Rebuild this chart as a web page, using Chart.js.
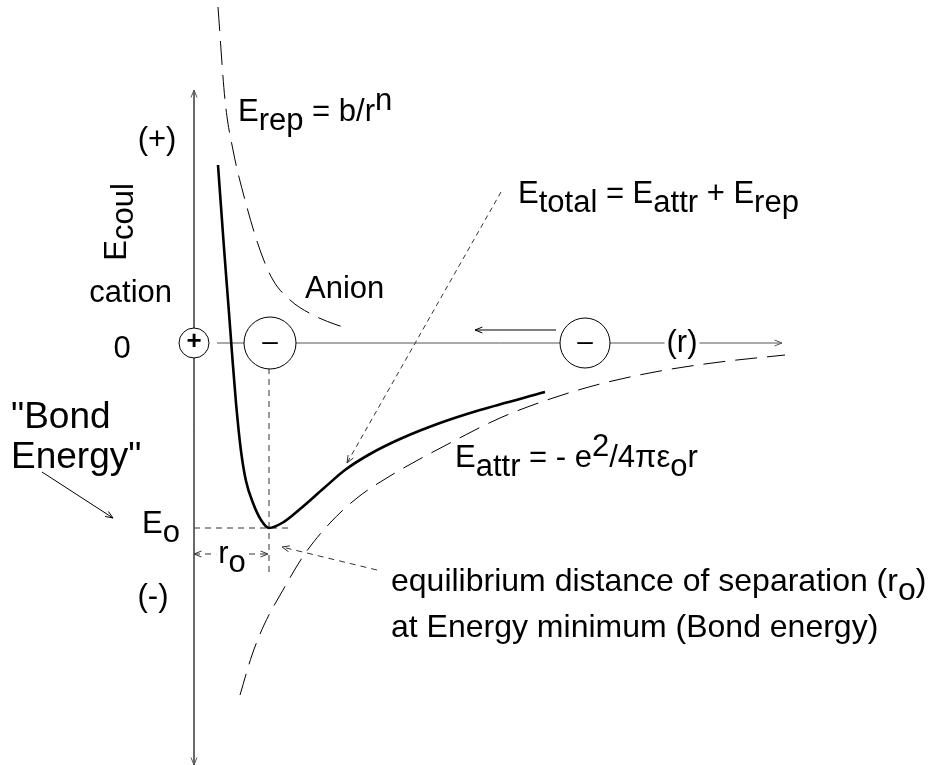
<!DOCTYPE html>
<html>
<head>
<meta charset="utf-8">
<script src="https://cdn.jsdelivr.net/npm/chart.js@4.4.1/dist/chart.umd.min.js"></script>
<style>
  html, body { margin: 0; padding: 0; background: #fff; }
  #wrap { width: 938px; height: 765px; }
</style>
</head>
<body>
<div id="wrap"><canvas id="chartLine"></canvas></div>
<script>
// x = separation r, y = coulomb energy; the cation sits at the origin
const totalR = [0.24, 0.30, 0.35, 0.38, 0.42, 0.47, 0.52, 0.59, 0.67, 0.75, 0.88, 1.06, 1.30, 1.51, 1.76, 2.06, 2.46, 2.86, 3.51];
const totalE = [1.78, 0.95, 0.30, -0.10, -0.60, -1.08, -1.38, -1.60, -1.77, -1.85, -1.80, -1.66, -1.45, -1.27, -1.11, -0.96, -0.80, -0.67, -0.49];

const repR = [0.24, 0.31, 0.39, 0.51, 0.66, 0.79, 0.96, 1.19, 1.43, 1.53];
const repE = [3.36, 2.43, 1.93, 1.43, 0.93, 0.63, 0.43, 0.28, 0.18, 0.15];

const attrR = [0.46, 0.58, 0.70, 0.89, 1.10, 1.36, 1.63, 1.96, 2.56, 3.06, 3.56, 4.06, 4.66, 5.26, 5.91];
const attrE = [-3.52, -3.12, -2.82, -2.47, -2.12, -1.80, -1.55, -1.33, -1.00, -0.75, -0.56, -0.41, -0.28, -0.19, -0.12];

// ions: cation, anion at r0, anion far away
const ionR = [0, 0.76, 3.91];
const ionE = [0, 0, 0];
const ionSign = ['+', '\u2013', '\u2013'];

// equilibrium point
const r0 = 0.75;
const E0 = -1.85;

const xy = (xs, ys) => xs.map((x, i) => ({ x: x, y: ys[i] }));
const seg = (x1, y1, x2, y2) => [{ x: x1, y: y1 }, { x: x2, y: y2 }];

// text labels, anchored in data units; parts = [text, baseline shift in px]
const labels = [
  { x: -0.37, y: 2.03, align: 'center', base: 'middle', parts: [['(+)', 0]] },
  { x: -0.77, y: 1.21, align: 'center', base: 'middle', rot: true, parts: [['E', 0], ['coul', 7]] },
  { x: -0.22, y: 0.50, align: 'right', base: 'middle', parts: [['cation', 0]] },
  { x: -0.72, y: -0.06, align: 'center', base: 'middle', parts: [['0', 0]] },
  { x: 0.44, y: 2.22, align: 'left', base: 'alphabetic', parts: [['E', 0], ['rep', 9], [' = b/r', 0], ['n', -11]] },
  { x: 1.11, y: 0.45, align: 'left', base: 'alphabetic', parts: [['Anion', 0]] },
  { x: 4.88, y: 0, align: 'center', base: 'middle', bg: true, parts: [['(r)', 0]] },
  { x: 3.24, y: 1.40, align: 'left', base: 'alphabetic', parts: [['E', 0], ['total', 9], [' = E', 0], ['attr', 9], [' + E', 0], ['rep', 9]] },
  { x: 2.61, y: -1.24, align: 'left', base: 'alphabetic', parts: [['E', 0], ['attr', 9], [' = - e', 0], ['2', -11], ['/4\u03c0\u03b5', 0], ['o', 9], ['r', 0]] },
  { x: -0.52, y: -1.90, align: 'left', base: 'alphabetic', parts: [['E', 0], ['o', 9]] },
  { x: 0.38, y: -2.11, align: 'center', base: 'middle', bg: true, parts: [['r', 0], ['o', 9]] },
  { x: -0.41, y: -2.54, align: 'center', base: 'middle', parts: [['(-)', 0]] },
  { x: -1.83, y: -0.85, align: 'left', base: 'alphabetic', size: 37, parts: [['"Bond', 0]] },
  { x: -1.83, y: -1.25, align: 'left', base: 'alphabetic', size: 37, parts: [['Energy"', 0]] },
  { x: 1.97, y: -2.48, align: 'left', base: 'alphabetic', size: 32, parts: [['equilibrium distance of separation (r', 0], ['o', 9], [')', 0]] },
  { x: 1.97, y: -2.94, align: 'left', base: 'alphabetic', size: 32, parts: [['at Energy minimum (Bond energy)', 0]] }
];

const FONT = '"Liberation Sans", Arial, Helvetica, sans-serif';
const FONT_SIZE = 31;

function line(data, opts) {
  return Object.assign({
    data: data, showLine: true, pointRadius: 0, fill: false,
    borderColor: '#000', borderWidth: 1, tension: 0, order: 2
  }, opts);
}

const datasets = [
  // axes
  line(seg(0, 2.53, 0, -4.22), { borderColor: '#555', arrow: 'both' }),
  line(seg(0.23, 0, 5.88, 0), { borderColor: '#555', arrow: 'end' }),
  // curves
  line(xy(totalR, totalE), { borderWidth: 2.6, cubicInterpolationMode: 'monotone', order: 1 }),
  line(xy(repR, repE), { borderDash: [24, 10], cubicInterpolationMode: 'monotone' }),
  line(xy(attrR, attrE), { borderDash: [22, 10], cubicInterpolationMode: 'monotone' }),
  // guides
  line(seg(r0, -0.25, r0, -2.32), { borderColor: '#333', borderDash: [6, 5] }),
  line(seg(0, E0, 0.96, E0), { borderColor: '#333', borderDash: [6, 5] }),
  line(seg(0, -2.11, r0 - 0.01, -2.11), { borderColor: '#333', borderDash: [6, 5], arrow: 'both' }),
  line(seg(1.83, -2.27, 0.88, -2.04), { borderColor: '#333', borderDash: [6, 5], arrow: 'end' }),
  line(seg(3.07, 1.51, 1.53, -1.20), { borderColor: '#333', borderDash: [5, 4], arrow: 'end' }),
  line(seg(-1.52, -1.29, -0.81, -1.75), { arrow: 'end' }),
  line(seg(3.62, 0.13, 2.81, 0.13), { arrow: 'end' }),
  // ions
  {
    data: xy(ionR, ionE), showLine: false, order: 0,
    pointRadius: [15, 26, 25], pointHoverRadius: [15, 26, 25],
    pointBackgroundColor: '#fff', pointBorderColor: '#000', pointBorderWidth: 1
  }
];

function head(ctx, from, to) {
  const a = Math.atan2(to.y - from.y, to.x - from.x);
  const L = 8, w = 0.38;
  ctx.beginPath();
  ctx.moveTo(to.x - L * Math.cos(a - w), to.y - L * Math.sin(a - w));
  ctx.lineTo(to.x, to.y);
  ctx.lineTo(to.x - L * Math.cos(a + w), to.y - L * Math.sin(a + w));
  ctx.stroke();
}

const arrowPlugin = {
  id: 'arrows',
  afterDatasetsDraw(chart) {
    const ctx = chart.ctx;
    chart.data.datasets.forEach((ds, i) => {
      if (!ds.arrow) return;
      const pts = chart.getDatasetMeta(i).data;
      ctx.save();
      ctx.strokeStyle = ds.borderColor;
      ctx.lineWidth = 1;
      ctx.setLineDash([]);
      head(ctx, pts[pts.length - 2], pts[pts.length - 1]);
      if (ds.arrow === 'both') head(ctx, pts[1], pts[0]);
      ctx.restore();
    });
  }
};

const textPlugin = {
  id: 'texts',
  afterDatasetsDraw(chart) {
    const ctx = chart.ctx;
    const sx = chart.scales.x, sy = chart.scales.y;
    ctx.save();
    ctx.fillStyle = '#000';
    // signs inside the ions
    ionR.forEach((r, i) => {
      ctx.font = (i === 0 ? 'bold 26px ' : '28px ') + FONT;
      ctx.textAlign = 'center';
      ctx.textBaseline = 'middle';
      ctx.fillText(ionSign[i], sx.getPixelForValue(r), sy.getPixelForValue(ionE[i]) - 1);
    });
    labels.forEach(lb => {
      const size = lb.size || FONT_SIZE;
      ctx.font = size + 'px ' + FONT;
      ctx.textBaseline = lb.base;
      ctx.textAlign = 'left';
      const w = lb.parts.reduce((s, p) => s + ctx.measureText(p[0]).width, 0);
      let x0 = lb.align === 'center' ? -w / 2 : lb.align === 'right' ? -w : 0;
      ctx.save();
      ctx.translate(sx.getPixelForValue(lb.x), sy.getPixelForValue(lb.y));
      if (lb.rot) ctx.rotate(-Math.PI / 2);
      if (lb.bg) {
        ctx.fillStyle = '#fff';
        ctx.fillRect(x0 - 2, -size * 0.55, w + 4, size * 1.1);
        ctx.fillStyle = '#000';
      }
      lb.parts.forEach(p => {
        ctx.fillText(p[0], x0, p[1]);
        x0 += ctx.measureText(p[0]).width;
      });
      ctx.restore();
    });
    ctx.restore();
  }
};

const chartLine = new Chart(document.getElementById('chartLine'), {
  type: 'scatter',
  data: { datasets: datasets },
  options: {
    responsive: true,
    maintainAspectRatio: false,
    animation: false,
    events: [],
    layout: { padding: 0, autoPadding: false },
    scales: {
      x: { type: 'linear', min: -1.94, max: 7.44, display: false },
      y: { type: 'linear', min: -4.22, max: 3.43, display: false }
    },
    plugins: { legend: { display: false }, tooltip: { enabled: false } }
  },
  plugins: [arrowPlugin, textPlugin]
});
</script>
</body>
</html>
